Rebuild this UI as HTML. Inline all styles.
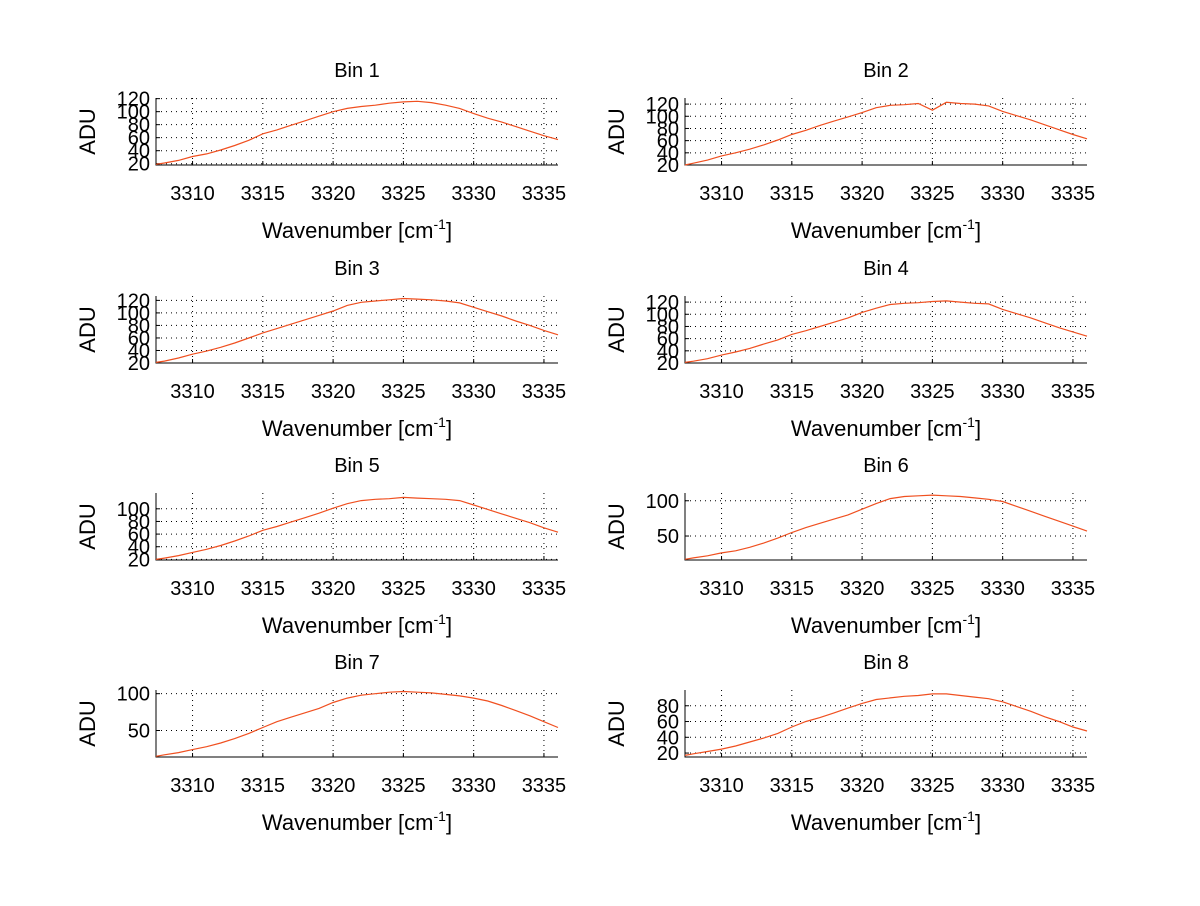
<!DOCTYPE html>
<html><head><meta charset="utf-8"><style>
body{margin:0;background:#fff}
svg text{font-family:"Liberation Sans",sans-serif;fill:#000}
</style></head><body>
<svg id="fig" width="1200" height="901" viewBox="0 0 1200 901"></svg>
<script>
const xs=[3307.4,3308,3309,3310,3311,3312,3313,3314,3315,3316,3317,3318,3319,3320,3321,3322,3323,3324,3325,3326,3327,3328,3329,3330,3331,3332,3333,3334,3335,3336];
const bin1=[19,21,25,31,35,41,48,56,66,72,79,86,93,100,105,108,110,113,115,116,114,110,105,97,90,84,77,70,63,57];
const bin2=[20,23,28,35,40,46,53,61,70,77,85,92,99,106,114,118,119,121,110,123,121,120,117,108,101,94,86,78,70,63];
const bin3=[21,23,28,34,39,45,52,60,68,75,82,89,96,103,112,117,119,121,123,122,121,119,116,109,102,95,87,80,72,65];
const bin4=[21,23,27,33,38,44,51,58,67,73,80,87,94,103,110,116,118,119,121,122,120,118,117,108,101,94,86,78,71,64];
const bin5=[20,22,26,31,36,42,49,57,66,72,79,86,93,101,108,113,115,116,118,117,116,115,113,106,99,92,85,78,70,63];
const bin6=[17,19,22,26,29,34,40,47,55,62,68,74,80,88,96,103,106,107,108,107,106,104,102,99,92,85,78,71,64,57];
const bin7=[15,17,20,24,28,33,39,46,54,62,68,74,80,88,94,98,100,102,103,102,101,99,97,94,90,84,77,70,62,54];
const bin8=[17,19,22,25,29,34,39,45,53,60,65,71,77,83,88,90,92,93,95,95,93,91,89,85,79,73,66,60,53,48];
const xTicks=[3310,3315,3320,3325,3330,3335];
const yTicks1=[20,40,60,80,100,120];
const yTicks5=[20,40,60,80,100];
const yTicks6=[50,100];
const yTicks8=[20,40,60,80];
const ylims=[[18,121],[20,130],[20,127],[20,130],[19,125],[16,111],[14,105],[15,100]];
const series=[bin1,bin2,bin3,bin4,bin5,bin6,bin7,bin8];
const yticksAll=[yTicks1,yTicks1,yTicks1,yTicks1,yTicks5,yTicks6,yTicks6,yTicks8];
const xlim=[3307.4,3336];
const NS='http://www.w3.org/2000/svg';
const svg=document.getElementById('fig');
function mk(t,a,p){const e=document.createElementNS(NS,t);for(const k in a)e.setAttribute(k,a[k]);(p||svg).appendChild(e);return e;}
const cols=[[156,558],[685,1087]];
const rows=[98,296,493,690];
const H=67;
for(let i=0;i<8;i++){
  const c=cols[i%2],top=rows[Math.floor(i/2)],bot=top+H;
  const g=mk('g',{});
  
  
  const xS=v=>c[0]+(v-xlim[0])/(xlim[1]-xlim[0])*(c[1]-c[0]);
  const yl=ylims[i];
  const yS=v=>bot-(v-yl[0])/(yl[1]-yl[0])*H;
  xTicks.forEach(t=>{const X=xS(t);
    const gl=mk('line',{x1:X,x2:X,y1:top,y2:bot,stroke:'#000','stroke-width':1,'stroke-dasharray':'1,4'},g);
    
    mk('line',{x1:X,x2:X,y1:bot,y2:bot-4,stroke:'#000'},g);
    const tl=mk('text',{x:X,y:bot+35,'font-size':20,'text-anchor':'middle'},g);tl.textContent=t;
    
  });
  yticksAll[i].forEach(t=>{const Y=yS(t);
    const gl=mk('line',{x1:c[0],x2:c[1],y1:Y,y2:Y,stroke:'#000','stroke-width':1,'stroke-dasharray':'1,4'},g);
    
    mk('line',{x1:c[0],x2:c[0]+4,y1:Y,y2:Y,stroke:'#000'},g);
    const tl=mk('text',{x:c[0]-6,y:Y+7,'font-size':20,'text-anchor':'end'},g);tl.textContent=t;
    
  });
  const ax=mk('path',{d:`M${c[0]},${top}V${bot}H${c[1]}`,fill:'none',stroke:'#000','stroke-width':1},g);
  
  const d=series[i].map((v,k)=>(k?'L':'M')+xS(xs[k]).toFixed(1)+','+yS(v).toFixed(1)).join('');
  const ln=mk('path',{d:d,fill:'none',stroke:'#f05020','stroke-width':1.2},g);
  
  const cx=(c[0]+c[1])/2;
  const tt=mk('text',{x:cx,y:top-21,'font-size':20,'text-anchor':'middle'},g);tt.textContent='Bin '+(i+1);
  
  const xl=mk('text',{x:cx,y:bot+73,'font-size':22,'text-anchor':'middle'},g);
  xl.innerHTML='Wavenumber [cm<tspan dy="-9" font-size="14">-1</tspan><tspan dy="9">]</tspan>';
  
  const yy=(top+bot)/2;
  const ylab=mk('text',{x:c[0]-61,y:yy,'font-size':22,'text-anchor':'middle',transform:`rotate(-90 ${c[0]-61} ${yy})`},g);
  ylab.textContent='ADU';
  
}
</script>
</body></html>
